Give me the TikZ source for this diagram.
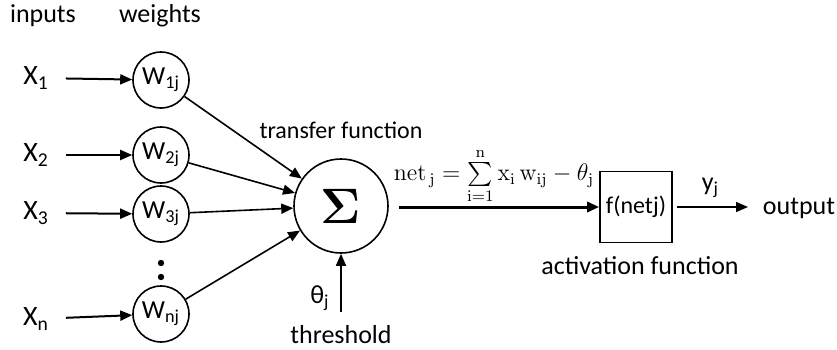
\documentclass[tikz,border=0pt]{standalone}
\usepackage[no-math]{fontspec}
\setmainfont{Carlito}
\usepackage{amsmath}
\usetikzlibrary{arrows.meta}

\begin{document}
\begin{tikzpicture}[x=0.5pt, y=-0.5pt, font=\fontsize{12}{14}\selectfont,
    >={Triangle[length=6pt,width=5pt]},
    weight/.style={circle, draw, thick, minimum size=28pt, inner sep=0pt,
      font=\fontsize{13}{15}\selectfont},
    inlabel/.style={font=\fontsize{14}{16}\selectfont},
    actbox/.style={draw, thick, minimum width=36pt, minimum height=35.5pt,
      inner sep=1pt}]
    \useasboundingbox (0,0) rectangle (837,349);

    % 标题
    \node[font=\fontsize{13}{15}\selectfont] (inputs) at (43,16) {inputs};
    \node[font=\fontsize{13}{15}\selectfont] (weights) at (160,16) {weights};

    % 输入
    \node[inlabel] (x1) at (36,78) {X\textsubscript{1}};
    \node[inlabel] (x2) at (36,155) {X\textsubscript{2}};
    \node[inlabel] (x3) at (36,213) {X\textsubscript{3}};
    \node[inlabel] (xn) at (36,319) {X\textsubscript{n}};

    % 权重
    \node[weight] (w1) at (161,80) {W\textsubscript{1j}};
    \node[weight] (w2) at (161,155) {W\textsubscript{2j}};
    \node[weight] (w3) at (161,214) {W\textsubscript{3j}};
    \node[weight] (wn) at (161,314) {W\textsubscript{nj}};

    % 省略号
    \fill (161,263) circle (1.6pt);
    \fill (161,277) circle (1.6pt);

    % 输入到权重的箭头
    \draw[->, line width=1pt, shorten <=5pt] (x1) -- (w1);
    \draw[->, line width=1pt, shorten <=5pt] (x2) -- (w2);
    \draw[->, line width=1pt, shorten <=5pt] (x3) -- (w3);
    \draw[->, line width=1pt, shorten <=5pt] (xn) -- (wn);

    % 求和节点
    \node[circle, draw, thick, minimum size=47pt, inner sep=0pt] (sum)
    at (341,206) {\fontsize{24}{26}\selectfont$\mathbf{\Sigma}$};
    \node (transfer) at (341,130) {transfer function};

    % 权重到求和节点
    \draw[->, thick] (w1) -- (sum);
    \draw[->, thick] (w2) -- (sum);
    \draw[->, thick] (w3) -- (sum);
    \draw[->, thick] (wn) -- (sum);

    % 阈值
    \coordinate (thr) at (341,312);
    \draw[->, thick] (thr) -- (sum.south);
    \node[font=\fontsize{13}{15}\selectfont] (theta) at (320,298)
    {θ\textsubscript{j}};
    \node[font=\fontsize{13}{15}\selectfont] (threshold) at (341,335)
    {threshold};

    % 激活函数
    \node[actbox] (act) at (636,207) {{\large f(}netj)};
    \node[font=\fontsize{13}{15}\selectfont] (activation) at (640,266)
    {activation function};
    \draw[->, line width=1.5pt, shorten <=5pt] (sum.east |- act) -- (act);
    \node[inner sep=1pt] (net) at (494,176)
    {$\mathrm{net}_{\,\mathrm{j}} = \sum\limits_{\mathrm{i=1}}^{\mathrm{n}}
      \mathrm{x_i\, w_{ij}} - \theta_{\mathrm{j}}$};

    % 输出
    \coordinate (out) at (748,207);
    \draw[->, thick, shorten <=2pt] (act) -- (out)
    node[midway, above=1pt, font=\fontsize{13}{15}\selectfont] (y)
    {y\textsubscript{j}};
    \node[font=\fontsize{13}{15}\selectfont] (output) at (799,208) {output};
  \end{tikzpicture}
\end{document}
